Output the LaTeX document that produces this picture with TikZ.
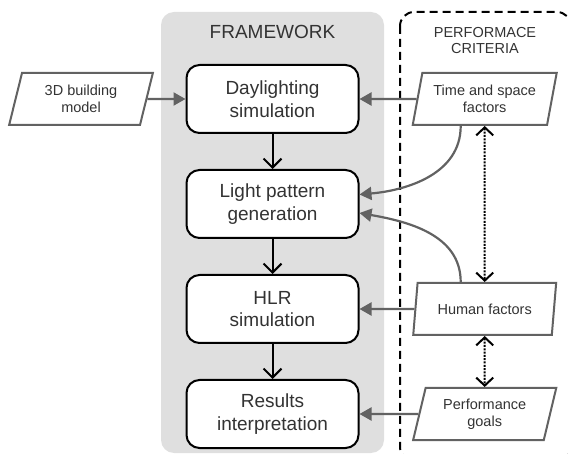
\documentclass[tikz,border=0pt]{standalone}
\usepackage{fontspec}
\setmainfont{Liberation Sans}
\usetikzlibrary{positioning,shapes.geometric,arrows.meta}

\definecolor{framegray}{HTML}{DFDFDF}
\definecolor{linegray}{HTML}{626262}
\definecolor{textgray}{HTML}{333333}

\begin{document}
\begin{tikzpicture}[
    x=1pt, y=1pt,
    block/.style={draw, line width=2pt, rounded corners=13pt, fill=white,
        minimum width=172pt, minimum height=68pt, align=center,
        text=textgray, font=\fontsize{19}{22.5}\selectfont},   % Style for the framework steps
    data/.style={trapezium, trapezium left angle=74, trapezium right angle=106,
        trapezium stretches=true, draw=linegray, line width=2pt, fill=white,
        minimum width=144pt, minimum height=52pt, inner sep=0pt, align=center,
        text=textgray, font=\fontsize{14.5}{17}\selectfont},  % Style for the inputs (parallelograms)
    flow/.style={->, line width=2pt, >={Straight Barb[length=9pt,width=18pt]}},        % Black step arrows
    feed/.style={-{Triangle[length=12pt,width=13pt]}, line width=2.2pt, draw=linegray}, % Grey input arrows
    link/.style={<->, line width=2pt, dash pattern=on 2pt off 1.3pt,
        >={Straight Barb[length=8pt,width=17pt]}}                                    % Dotted relations
    ]

    \useasboundingbox (0,0) rectangle (568,-454);

    % Background areas
    \fill[framegray, rounded corners=13pt] (161,-12) rectangle (384,-453);
    \draw[line width=2pt, dash pattern=on 8pt off 5pt, rounded corners=14pt] (400,-12) rectangle (571,-461);

    % Titles
    \node[text=textgray, font=\fontsize{19}{22}\selectfont] (frame) at (272.5,-31.7) {FRAMEWORK};
    \node[text=textgray, align=center, font=\fontsize{14.5}{16}\selectfont] (crit) at (485,-41) {PERFORMACE\\CRITERIA};

    % Framework steps
    \node[block] (day) at (272.5,-99) {Daylighting\\simulation};
    \node[block, below=35pt of day] (light) {Light pattern\\generation};
    \node[block, below=35pt of light] (hlr) {HLR\\simulation};
    \node[block, below=35pt of hlr] (res) {Results\\interpretation};

    % Inputs
    \node[data] (model) at (81,-99) {3D building\\model};
    \node[data] (time) at (484.7,-99) {Time and space\\factors};
    \node[data] (human) at (time |- hlr) {Human factors};
    \node[data] (goals) at (time |- res) {Performance\\goals};

    % Steps one after another
    \draw[flow] (day) -- (light);
    \draw[flow] (light) -- (hlr);
    \draw[flow] (hlr) -- (res);

    % Inputs into the steps
    \draw[feed] (model) -- (day);
    \draw[feed] (time) -- (day);
    \draw[feed] (human) -- (hlr);
    \draw[feed] (goals) -- (res);
    \draw[feed] ([xshift=-24pt]time.south) to[out=-90, in=5] ([yshift=9.5pt]light.east);
    \draw[feed] ([xshift=-24pt]human.north) to[out=90, in=-10] ([yshift=-9pt]light.east);

    % Relations between the criteria
    \draw[link] (time) -- (human);
    \draw[link] (human) -- (goals);

\end{tikzpicture}
\end{document}
